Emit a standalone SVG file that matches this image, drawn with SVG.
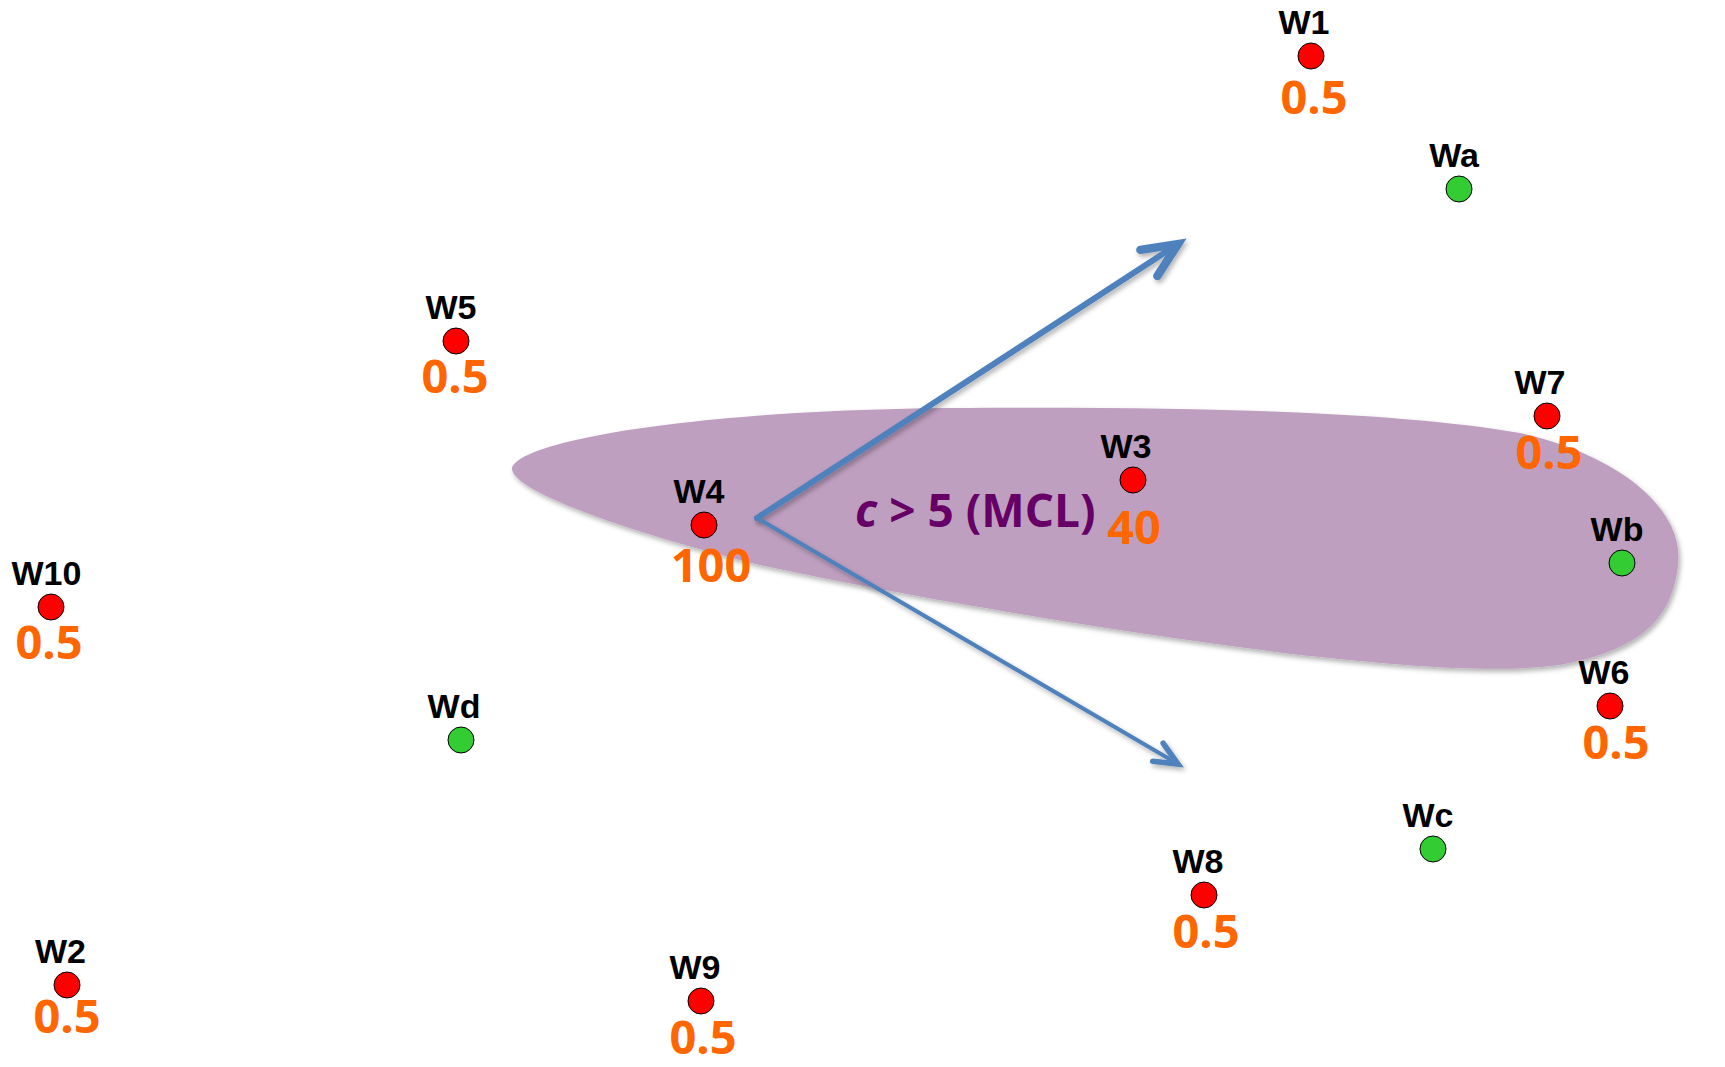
<svg xmlns="http://www.w3.org/2000/svg" width="1725" height="1067" viewBox="0 0 1725 1067">
<defs>
<style>
.lbl{font-family:"Liberation Sans",Arial,sans-serif;font-weight:bold;font-size:34px;fill:#000;text-anchor:middle}
.val{font-family:"Open Sans","Liberation Sans",sans-serif;font-weight:bold;font-size:47px;fill:#FF6600;text-anchor:middle}
.red{fill:#FF0000;stroke:#000;stroke-width:1}
.grn{fill:#33CC33;stroke:#000;stroke-width:1}
.arr{fill:none;stroke:#4F81BD;stroke-linecap:round;marker-end:url(#ah);filter:url(#sh)}
.note{font-family:"Open Sans","Liberation Sans",sans-serif;font-weight:bold;font-size:46px;fill:#660066}
</style>
<filter id="sh" x="-10%" y="-10%" width="120%" height="130%">
<feDropShadow dx="2" dy="3" stdDeviation="2.5" flood-color="#000" flood-opacity="0.3"/>
</filter>
<marker id="ah" viewBox="-8 -5 10 10" refX="0" refY="0" markerWidth="10" markerHeight="10" orient="auto" markerUnits="strokeWidth" overflow="visible">
<path d="M-5.8,-2.6 L0,0 L-5.8,2.6" fill="none" stroke="#4F81BD" stroke-width="1.4" stroke-linecap="round" stroke-linejoin="miter"/>
</marker>
</defs>
<rect width="1725" height="1067" fill="#fff"/>
<g id="region">
<path d="M512,468 C520,440 700,410 950,408 C1200,406 1400,412 1520,433 C1620,455 1685,510 1678,565 C1672,620 1640,650 1560,665 C1500,673 1420,668 1300,655 C1100,630 900,595 760,565 C620,530 510,490 512,468 Z" fill="#BF9FBF" filter="url(#sh)"/>
<text class="note" x="855" y="527"><tspan font-style="italic">c</tspan> &gt; 5 (MCL)</text>
</g>
<g id="connectors">
<path class="arr" stroke-width="6" d="M757,518 L1178,244"/>
<path class="arr" stroke-width="4" d="M757,518 L1178,764"/>
</g>
<g id="W1"><circle class="red" cx="1311" cy="56" r="13"/><text class="lbl" x="1304" y="34">W1</text><text class="val" x="1314" y="114">0.5</text></g>
<g id="Wa"><circle class="grn" cx="1459" cy="189" r="13"/><text class="lbl" x="1454" y="167">Wa</text></g>
<g id="W5"><circle class="red" cx="456" cy="341" r="13"/><text class="lbl" x="451" y="319">W5</text><text class="val" x="455" y="393">0.5</text></g>
<g id="W7"><circle class="red" cx="1547" cy="416" r="13"/><text class="lbl" x="1540" y="394">W7</text><text class="val" x="1549" y="469">0.5</text></g>
<g id="W3"><circle class="red" cx="1133" cy="480" r="13"/><text class="lbl" x="1126" y="458">W3</text><text class="val" x="1134" y="544">40</text></g>
<g id="W4"><circle class="red" cx="704" cy="525" r="13"/><text class="lbl" x="699" y="503">W4</text><text class="val" x="711" y="582">100</text></g>
<g id="Wb"><circle class="grn" cx="1622" cy="563" r="13"/><text class="lbl" x="1617" y="541">Wb</text></g>
<g id="W10"><circle class="red" cx="51" cy="607" r="13"/><text class="lbl" x="46.5" y="585">W10</text><text class="val" x="49" y="659">0.5</text></g>
<g id="W6"><circle class="red" cx="1610" cy="706" r="13"/><text class="lbl" x="1604" y="684">W6</text><text class="val" x="1616" y="759">0.5</text></g>
<g id="Wd"><circle class="grn" cx="461" cy="740" r="13"/><text class="lbl" x="454" y="718">Wd</text></g>
<g id="Wc"><circle class="grn" cx="1433" cy="849" r="13"/><text class="lbl" x="1428" y="827">Wc</text></g>
<g id="W8"><circle class="red" cx="1204" cy="895" r="13"/><text class="lbl" x="1198" y="873">W8</text><text class="val" x="1206" y="948">0.5</text></g>
<g id="W2"><circle class="red" cx="67" cy="985" r="13"/><text class="lbl" x="60.5" y="963">W2</text><text class="val" x="67" y="1033">0.5</text></g>
<g id="W9"><circle class="red" cx="701" cy="1001" r="13"/><text class="lbl" x="695" y="979">W9</text><text class="val" x="703" y="1054">0.5</text></g>
</svg>
